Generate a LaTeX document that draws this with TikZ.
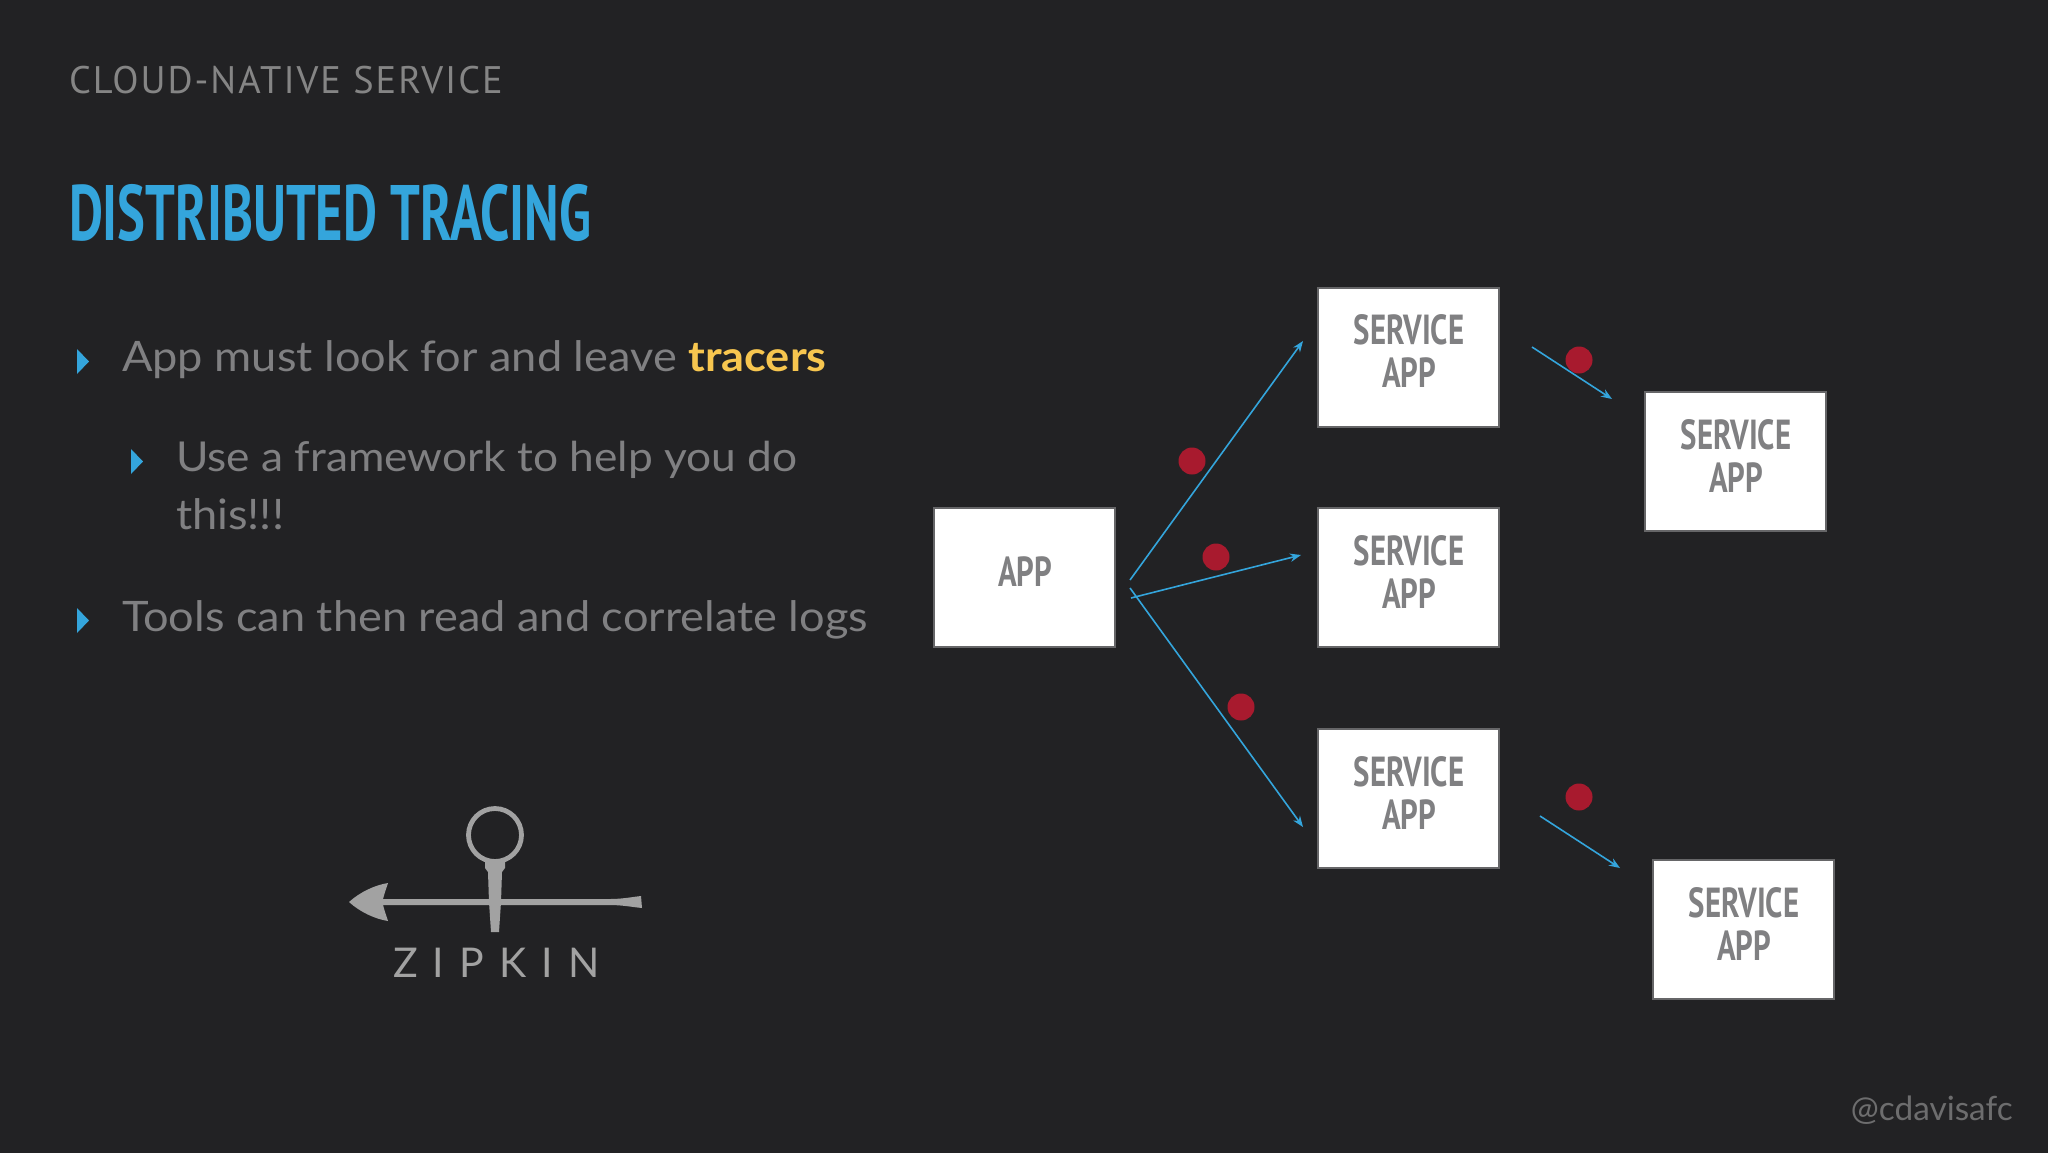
\documentclass[tikz,border=0pt]{standalone}
\usepackage{fontspec}
\usetikzlibrary{arrows.meta}
\setmainfont[FakeStretch=1.075]{Lato}
\newfontfamily\plainlato{Lato}
\newfontfamily\dinc[FakeStretch=0.668]{PT Sans Bold}
\newfontfamily\dinb[FakeStretch=0.735]{PT Sans Bold}
\newfontfamily\dinr[LetterSpace=5.2]{PT Sans}
\newfontfamily\logof[LetterSpace=37]{Lato}
\definecolor{bgc}{HTML}{222224}
\definecolor{greyt}{HTML}{808082}
\definecolor{headc}{HTML}{858585}
\definecolor{bluec}{HTML}{34A5DC}
\definecolor{redc}{HTML}{A81A2E}
\definecolor{yelc}{HTML}{F7C64F}
\definecolor{logoc}{HTML}{A2A2A2}
\definecolor{edgec}{HTML}{666668}
\newcommand\boxlines[2]{\parbox[c][#1][t]{85pt}{\centering\baselineskip=21.5pt\hspace*{1pt}#2}}
\tikzset{
  txt/.style={anchor=base west,inner sep=0pt,outer sep=0pt},
  bodytext/.style={txt,text=greyt,font=\fontsize{21}{24}\selectfont},
  appbox/.style={draw=edgec,fill=white,line width=1pt,minimum width=90.5pt,minimum height=69.5pt,inner sep=0pt,text=greyt,font=\dinb\fontsize{21}{21.5}\selectfont,align=center},
  flow/.style={draw=bluec,line width=0.8pt,-{Stealth[length=5.5pt,width=4.2pt]}},
  tracer/.style={circle,fill=redc,minimum size=13.5pt,inner sep=0pt},
  bullet/.style={fill=bluec,draw=none},
  logoshape/.style={fill=logoc,draw=none}
}
\begin{document}
\begin{tikzpicture}[x=0.5pt,y=-0.5pt]
\useasboundingbox (0,0) rectangle (2048,1152);
\fill[bgc] (-6,-6) rectangle (2054,1158);
% headings
\node[txt,text=headc,font=\dinr\fontsize{19.2}{22}\selectfont] (head) at (69,93) {CLOUD-NATIVE SERVICE};
\node[txt,text=bluec,font=\dinc\fontsize{39.3}{44}\selectfont] (title) at (69,240) {DISTRIBUTED TRACING};
% bullets
\fill[bullet] (77,349) -- (89,361.5) -- (77,374) -- cycle;
\fill[bullet] (131,449) -- (143,461.5) -- (131,474) -- cycle;
\fill[bullet] (77,608) -- (89,620.5) -- (77,633) -- cycle;
\node[bodytext] (b1) at (122,371) {App must look for and leave \textcolor{yelc}{\textbf{tracers}}};
\node[bodytext,font=\fontsize{20.6}{24}\selectfont] (b2) at (176,471) {Use a framework to help you do};
\node[bodytext] (b2b) at (176,529) {this!!!};
\node[bodytext] (b3) at (122,631) {Tools can then read and correlate logs};
\node[anchor=base east,inner sep=0pt,text=greyt!85!black,font=\plainlato\fontsize{16.7}{20}\selectfont] (handle) at (2013,1120) {@cdavisafc};
% boxes
\node[appbox] (app) at (1024,577.5) {\boxlines{20.5pt}{APP}};
\node[appbox] (s1) at (1408,357) {\boxlines{42pt}{SERVICE\\\hspace*{1pt}APP}};
\node[appbox] (s2) at (1408,577.5) {\boxlines{42pt}{SERVICE\\\hspace*{1pt}APP}};
\node[appbox] (s3) at (1408,798) {\boxlines{42pt}{SERVICE\\\hspace*{1pt}APP}};
\node[appbox] (s4) at (1735,461) {\boxlines{42pt}{SERVICE\\\hspace*{1pt}APP}};
\node[appbox] (s5) at (1743,929) {\boxlines{42pt}{SERVICE\\\hspace*{1pt}APP}};
% connector ends
\coordinate (a1) at (1130,580);
\coordinate (e1) at (1303,341);
\coordinate (a2) at (1131,598);
\coordinate (e2) at (1301,555);
\coordinate (a3) at (1130,588);
\coordinate (e3) at (1303,827);
\coordinate (a4) at (1532,347);
\coordinate (e4) at (1612,399);
\coordinate (a5) at (1540,816);
\coordinate (e5) at (1620,868);
% tracers under lines
\node[tracer] (d1) at (1192,461) {};
\node[tracer] (d2) at (1216,557) {};
\node[tracer] (d3) at (1241,707) {};
\node[tracer] (d4) at (1579,360) {};
\node[tracer] (d5) at (1579,797) {};
\draw[flow] (a1) -- (e1);
\draw[flow] (a2) -- (e2);
\draw[flow] (a3) -- (e3);
\draw[flow] (a4) -- (e4);
\draw[flow] (a5) -- (e5);
% Zipkin logo
\draw[logoc,line width=2.4pt] (495,835) circle (26.5);
\fill[logoshape] (485,862) -- (505,862) -- (505,868) -- (502,872) -- (501,902) -- (499,932) -- (491,932) -- (489,902) -- (488,872) -- (485,868) -- cycle;
\fill[logoshape] (349,902) .. controls (360,892) and (375,885) .. (388,883) -- (385,892) -- (383,899) -- (480,899) -- (610,899) .. controls (622,899) and (632,897) .. (641,896) -- (642,908) .. controls (632,907) and (622,905) .. (610,905) -- (480,905) -- (383,905) -- (385,912) -- (388,921) .. controls (375,919) and (360,912) .. (349,902) -- cycle;
\node[txt,text=logoc,font=\logof\fontsize{20.5}{24}\selectfont] (zip) at (393,977) {ZIPKIN};
\end{tikzpicture}
\end{document}
